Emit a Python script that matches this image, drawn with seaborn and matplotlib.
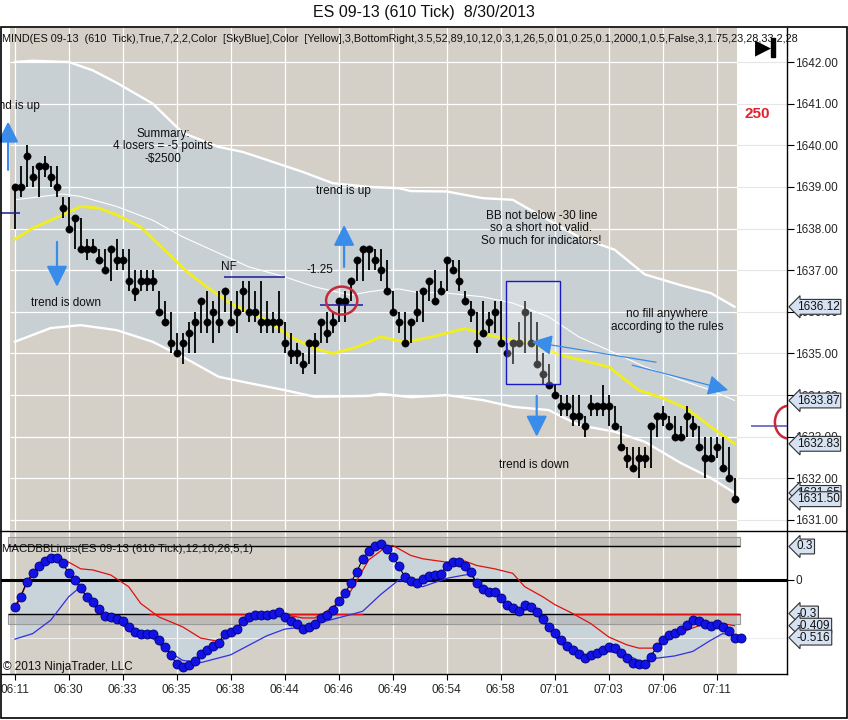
import numpy as np
import pandas as pd
import seaborn as sns
import matplotlib.pyplot as plt
from matplotlib.patches import Rectangle, Ellipse
from matplotlib.lines import Line2D

# ---- price bars (610 tick) ----
closes = [1639.0, 1639.0, 1639.75, 1639.25, 1639.5, 1639.5, 1639.25, 1639.0, 1638.5, 1638.0,
          1638.25, 1637.5, 1637.5, 1637.5, 1637.25, 1637.0, 1637.5, 1637.25, 1637.25, 1636.75,
          1636.5, 1636.75, 1636.75, 1636.75, 1636.0, 1635.75, 1635.25, 1635.0, 1635.25, 1635.5,
          1635.75, 1636.25, 1635.75, 1636.0, 1635.75, 1636.5, 1635.75, 1636.0, 1636.5, 1636.0,
          1636.0, 1635.75, 1635.75, 1635.75, 1635.75, 1635.25, 1635.0, 1635.0, 1634.75, 1635.25,
          1635.25, 1635.75, 1635.5, 1635.75, 1636.25, 1636.25, 1636.75, 1637.25, 1637.5, 1637.5,
          1637.25, 1637.0, 1636.5, 1636.0, 1635.75, 1635.25, 1635.75, 1636.0, 1636.5, 1636.75,
          1636.25, 1636.5, 1637.25, 1637.0, 1636.75, 1636.25, 1636.0, 1635.25, 1635.5, 1635.75,
          1636.0, 1635.25, 1635.0, 1635.25, 1635.25, 1636.0, 1635.25, 1634.75, 1634.5, 1634.25,
          1634.0, 1633.75, 1633.75, 1633.5, 1633.5, 1633.25, 1633.75, 1633.75, 1633.75, 1633.75,
          1633.25, 1632.75, 1632.5, 1632.25, 1632.5, 1632.5, 1633.25, 1633.5, 1633.5, 1633.25,
          1633.0, 1633.0, 1633.5, 1633.25, 1632.75, 1632.5, 1632.5, 1632.75, 1632.25, 1632.0,
          1631.5]
highs = [1639.0, 1639.5, 1640.0, 1639.5, 1639.5, 1639.75, 1639.5, 1639.5, 1638.75, 1638.75,
         1638.25, 1638.25, 1637.75, 1637.75, 1637.5, 1637.5, 1637.5, 1637.75, 1637.5, 1637.5,
         1637.0, 1637.0, 1637.0, 1637.0, 1636.5, 1636.25, 1636.0, 1635.5, 1635.5, 1635.75,
         1636.0, 1636.25, 1636.5, 1636.25, 1636.5, 1636.5, 1636.25, 1636.5, 1636.75, 1636.75,
         1636.5, 1636.75, 1636.25, 1636.0, 1636.5, 1635.75, 1635.5, 1635.25, 1635.0, 1635.25,
         1635.5, 1635.75, 1636.0, 1636.0, 1636.25, 1636.5, 1636.75, 1637.25, 1637.5, 1637.5,
         1637.5, 1637.5, 1637.25, 1636.5, 1636.0, 1636.0, 1635.75, 1636.5, 1636.5, 1636.75,
         1637.0, 1636.75, 1637.25, 1637.25, 1637.25, 1636.5, 1636.25, 1636.0, 1636.25, 1636.0,
         1636.25, 1636.25, 1635.25, 1635.25, 1635.75, 1636.25, 1636.0, 1635.75, 1635.0, 1634.75,
         1634.25, 1634.0, 1634.0, 1634.0, 1634.0, 1633.5, 1634.0, 1633.75, 1634.25, 1634.0,
         1633.75, 1633.25, 1632.75, 1632.75, 1632.75, 1632.75, 1633.25, 1633.5, 1633.75, 1633.5,
         1633.5, 1633.25, 1633.75, 1633.5, 1633.25, 1633.0, 1633.0, 1633.0, 1633.0, 1632.75,
         1632.0]
lows = [1638.0, 1638.75, 1639.0, 1639.0, 1638.75, 1639.25, 1639.0, 1638.75, 1638.25, 1638.0,
        1637.5, 1637.5, 1637.25, 1637.5, 1637.25, 1637.0, 1636.75, 1637.0, 1637.0, 1636.5,
        1636.25, 1636.5, 1636.5, 1636.5, 1636.0, 1635.75, 1635.0, 1635.0, 1634.75, 1635.0,
        1635.0, 1635.5, 1635.5, 1635.25, 1635.5, 1636.0, 1635.75, 1635.5, 1636.0, 1635.75,
        1635.75, 1635.5, 1635.5, 1635.5, 1635.5, 1635.0, 1634.75, 1634.75, 1634.5, 1634.75,
        1634.5, 1635.25, 1635.25, 1635.5, 1635.75, 1635.75, 1636.25, 1636.75, 1636.75, 1637.0,
        1637.0, 1636.75, 1636.5, 1636.0, 1635.5, 1635.25, 1635.25, 1635.75, 1635.75, 1636.25,
        1636.25, 1636.5, 1636.5, 1637.0, 1636.5, 1636.25, 1635.75, 1635.0, 1635.5, 1635.5,
        1635.5, 1635.25, 1635.0, 1634.75, 1635.25, 1635.0, 1635.25, 1634.75, 1634.25, 1634.25,
        1634.0, 1633.5, 1633.5, 1633.25, 1633.25, 1633.0, 1633.5, 1633.5, 1633.5, 1633.25,
        1633.25, 1632.75, 1632.25, 1632.25, 1632.0, 1632.25, 1632.25, 1633.0, 1633.25, 1633.25,
        1633.0, 1633.0, 1633.0, 1633.0, 1632.75, 1632.0, 1632.5, 1632.5, 1632.25, 1632.0,
        1631.5]

time_labels = ['06:11', '06:30', '06:33', '06:35', '06:38', '06:44', '06:46',
               '06:49', '06:54', '06:58', '07:01', '07:03', '07:06', '07:11']
price_ticks = [1631, 1632, 1633, 1634, 1635, 1636, 1637, 1638, 1639, 1640, 1641, 1642]

# bollinger band lines, read at sample bars
upper_idx = [0, 3, 9, 13, 17, 23, 28, 34, 38, 42, 48, 53, 59, 64, 66, 72, 78, 83, 89, 94, 100, 105, 111, 116, 120]
upper_val = [1642.0, 1642.03, 1642.0, 1641.8, 1641.5, 1641.0, 1640.3, 1639.96, 1639.84, 1639.65,
             1639.36, 1639.09, 1639.0, 1638.97, 1638.9, 1638.89, 1638.73, 1638.69, 1638.2, 1637.8,
             1637.49, 1636.9, 1636.64, 1636.45, 1636.12]
mid_idx = [0, 8, 11, 17, 23, 28, 34, 39, 45, 50, 56, 59, 61, 64, 67, 72, 78, 83, 89, 94, 100, 105, 111, 116, 120]
mid_val = [1638.69, 1638.83, 1638.77, 1638.53, 1638.2, 1637.8, 1637.41, 1637.08, 1636.84, 1636.6,
           1636.4, 1636.48, 1636.52, 1636.55, 1636.47, 1636.45, 1636.36, 1636.21, 1635.88, 1635.4,
           1635.01, 1634.68, 1634.36, 1634.12, 1633.87]
lower_idx = [0, 6, 11, 17, 23, 28, 34, 39, 45, 50, 59, 61, 66, 72, 78, 83, 89, 94, 100, 105, 111, 116, 120]
lower_val = [1635.28, 1635.61, 1635.68, 1635.56, 1635.28, 1634.92, 1634.44, 1634.29, 1634.12, 1633.96,
             1633.98, 1634.03, 1633.95, 1634.0, 1633.88, 1633.72, 1633.64, 1633.28, 1633.12, 1632.88,
             1632.37, 1632.01, 1631.65]
ma_idx = [0, 3, 6, 11, 14, 17, 21, 25, 29, 32, 36, 42, 46, 50, 53, 57, 61, 65, 69, 75, 79, 86, 91, 99, 104, 108, 112, 116, 120]
ma_val = [1637.74, 1638.01, 1638.2, 1638.53, 1638.49, 1638.33, 1638.04, 1637.48, 1636.93, 1636.6,
          1636.2, 1635.8, 1635.4, 1635.12, 1635.0, 1635.15, 1635.4, 1635.27, 1635.38, 1635.6,
          1635.44, 1635.24, 1634.96, 1634.68, 1634.12, 1633.93, 1633.68, 1633.24, 1632.83]

# MACD panel
macd_vals = [-0.24, -0.15, -0.015, 0.06, 0.125, 0.17, 0.197, 0.197, 0.15, 0.06,
             0.0, -0.075, -0.15, -0.2, -0.26, -0.32, -0.335, -0.35, -0.37, -0.42,
             -0.47, -0.48, -0.48, -0.48, -0.54, -0.6, -0.67, -0.755, -0.776, -0.76,
             -0.725, -0.66, -0.627, -0.59, -0.56, -0.48, -0.465, -0.44, -0.364, -0.335,
             -0.313, -0.313, -0.313, -0.304, -0.29, -0.335, -0.367, -0.397, -0.436, -0.42,
             -0.397, -0.343, -0.313, -0.27, -0.188, -0.12, -0.03, 0.075, 0.185, 0.26,
             0.307, 0.322, 0.277, 0.21, 0.125, 0.03, -0.006, -0.03, 0.006, 0.036,
             0.045, 0.054, 0.125, 0.158, 0.164, 0.125, 0.075, -0.03, -0.083, -0.11,
             -0.11, -0.164, -0.227, -0.25, -0.275, -0.227, -0.245, -0.29, -0.35, -0.42,
             -0.477, -0.537, -0.588, -0.627, -0.665, -0.70, -0.67, -0.656, -0.627, -0.6,
             -0.61, -0.656, -0.70, -0.746, -0.755, -0.755, -0.686, -0.6, -0.537, -0.49,
             -0.477, -0.448, -0.403, -0.358, -0.367, -0.394, -0.41, -0.394, -0.424, -0.46,
             -0.52, -0.52]
red_idx = [0, 2, 5, 7, 9, 11, 13, 16, 19, 21, 24, 28, 31, 34, 36, 38, 40, 43, 46, 48, 50, 52, 54, 56,
           59, 62, 63, 66, 68, 72, 75, 77, 80, 83, 85, 88, 90, 93, 96, 99, 102, 104, 107, 109, 111,
           113, 115, 117, 119, 120]
red_val = [-0.27, -0.03, 0.18, 0.20, 0.16, 0.10, 0.09, 0.045, -0.06, -0.21, -0.33, -0.42, -0.52, -0.55,
           -0.50, -0.38, -0.31, -0.30, -0.32, -0.34, -0.34, -0.28, -0.20, -0.10, 0.18, 0.30, 0.31, 0.22,
           0.19, 0.16, 0.17, 0.13, 0.10, 0.06, -0.06, -0.15, -0.22, -0.30, -0.39, -0.51, -0.58, -0.61,
           -0.61, -0.53, -0.47, -0.43, -0.39, -0.38, -0.40, -0.41]
blue_idx = [0, 3, 6, 9, 11, 12, 14, 17, 20, 23, 25, 28, 31, 36, 42, 45, 48, 51, 56, 58, 61, 64, 68,
            72, 75, 76, 78, 80, 82, 84, 86, 88, 91, 95, 98, 102, 105, 107, 110, 113, 116, 118, 120]
blue_val = [-0.53, -0.48, -0.36, -0.15, -0.06, -0.16, -0.28, -0.37, -0.48, -0.52, -0.62, -0.72, -0.74,
            -0.67, -0.50, -0.44, -0.42, -0.38, -0.31, -0.28, -0.13, 0.0, -0.06, 0.015, 0.045, 0.05,
            -0.09, -0.12, -0.23, -0.28, -0.26, -0.37, -0.57, -0.70, -0.63, -0.67, -0.745, -0.70,
            -0.68, -0.64, -0.54, -0.48, -0.50]

price_marks = [1636.12, 1633.87, 1632.83, 1631.65, 1631.50]
macd_marks = [0.3, -0.3, -0.409, -0.516]

TAN = '#D4D0C8'
BAND = '#C8D0D4'
ARROW = '#3A8CEA'
FONT = ['Liberation Sans Narrow', 'Liberation Sans', 'DejaVu Sans']

sns.set_theme(style='white')
plt.rcParams['font.family'] = FONT
plt.rcParams['text.color'] = '#101010'

W, H = 848, 720
fig = plt.figure(figsize=(W / 100, H / 100), dpi=100)
fig.patch.set_facecolor('white')


def fx(px):
    return px / W


def fy(py):
    return 1 - py / H


ax = fig.add_axes([fx(1), fy(530), fx(787) - fx(1), fy(28) - fy(530)])
ax2 = fig.add_axes([fx(1), fy(674), fx(787) - fx(1), fy(532) - fy(674)])

bars = pd.DataFrame({'bar': np.arange(len(closes)), 'close': closes, 'high': highs, 'low': lows})
xmin, xmax = (1 - 14.7) / 6, (787 - 14.7) / 6
tan_end = (737 - 14.7) / 6
tan_start = (10 - 14.7) / 6
grid_x = list(range(0, 118, 9))

# ---------------- price panel ----------------
ax.set_facecolor('white')
ax.axvspan(tan_start, tan_end, color=TAN, lw=0, zorder=0)
ax.fill(np.r_[upper_idx, lower_idx[::-1]], np.r_[upper_val, lower_val[::-1]],
        color=BAND, lw=0, zorder=1)
for gx in grid_x:
    ax.axvline(gx, color='white', lw=0.9, zorder=1.5)
for p in price_ticks:
    ax.hlines(p, tan_start, tan_end, color='white', lw=0.9, zorder=1.5)
    ax.hlines(p, tan_end, xmax, color='#E6E6E6', lw=0.8, zorder=1.5)

sns.lineplot(x=upper_idx, y=upper_val, ax=ax, color='white', lw=1.7, zorder=3)
sns.lineplot(x=lower_idx, y=lower_val, ax=ax, color='white', lw=1.7, zorder=3)
sns.lineplot(x=mid_idx, y=mid_val, ax=ax, color='white', lw=0.8, zorder=3)
sns.lineplot(x=ma_idx, y=ma_val, ax=ax, color='#F2EE1E', lw=2.0, zorder=3.2)

ax.vlines(bars['bar'], bars['low'], bars['high'], color='black', lw=1.3, zorder=4)
sns.scatterplot(data=bars, x='bar', y='close', ax=ax, color='black', s=28,
                edgecolor='black', linewidth=0.3, zorder=5, legend=False)

# annotations
txt = dict(fontsize=8.5, ha='center', va='center', zorder=8)
ax.text((-15 - 14.7) / 6, 1640.94, 'trend is up', ha='left', va='center', fontsize=8.5, clip_on=True, zorder=8)
ax.text(24.7, 1639.98, 'Summary:\n4 losers = -5 points\n-$2500', linespacing=1.05, **txt)
ax.text(8.55, 1636.2, 'trend is down', **txt)
ax.text(35.7, 1637.07, 'NF', **txt)
ax.text(50.9, 1637.0, '-1.25', **txt)
ax.text(54.8, 1638.89, 'trend is up', **txt)
ax.text(87.8, 1638.01, 'BB not below -30 line\nso a short not valid.\nSo much for indicators!', linespacing=1.05, **txt)
ax.text(108.7, 1635.79, 'no fill anywhere\naccording to the rules', linespacing=1.05, **txt)
ax.text(86.55, 1632.32, 'trend is down', **txt)

thick = dict(arrowstyle='-|>,head_length=0.9,head_width=0.45', color=ARROW, lw=1.6, mutation_scale=14,
             shrinkA=0, shrinkB=0)
thin = dict(arrowstyle='-|>,head_length=0.9,head_width=0.45', color=ARROW, lw=0.9, mutation_scale=14,
            shrinkA=0, shrinkB=0)
ax.annotate('', xy=(-1.1, 1640.57), xytext=(-1.1, 1639.41), arrowprops=thick, zorder=7)
ax.annotate('', xy=(7.05, 1636.6), xytext=(7.05, 1637.68), arrowprops=thick, zorder=7)
ax.annotate('', xy=(54.9, 1638.09), xytext=(54.9, 1637.08), arrowprops=thick, zorder=7)
ax.annotate('', xy=(87.0, 1633.0), xytext=(87.0, 1633.98), arrowprops=thick, zorder=7)
ax.annotate('', xy=(86.2, 1635.28), xytext=(106.9, 1634.79), arrowprops=thin, zorder=7)
ax.annotate('', xy=(118.9, 1634.12), xytext=(102.9, 1634.72), arrowprops=thin, zorder=7)

ax.hlines(1638.38, xmin, 0.88, color='#1A1AA0', lw=1.1, zorder=6)
ax.hlines(1636.83, 34.9, 45.05, color='#1A1AA0', lw=1.1, zorder=6)
ax.hlines(1636.16, 50.9, 58.0, color='#1A1AA0', lw=1.1, zorder=6)
ax.hlines(1633.26, 122.7, xmax, color='#5050C0', lw=1.1, zorder=6)
ax.add_patch(Ellipse((54.5, 1636.27), 5.2, 0.67, fill=False, ec='#C8283C', lw=1.8, zorder=6.5))
ax.add_patch(Ellipse((129.05, 1633.35), 4.7, 0.79, fill=False, ec='#C8283C', lw=1.8, zorder=6.5))
ax.add_patch(Rectangle((81.9, 1634.26), 9.05, 2.48, fc=(1, 1, 1, 0.25), ec='#1A1AC0', lw=1.0, zorder=6))

ax.set_xlim(xmin, xmax)
ax.set_ylim(1631 - 10 / 41.636, 1642 + 34 / 41.636)
ax.set_xticks([])
ax.yaxis.tick_right()
ax.set_yticks(price_ticks)
ax.set_yticklabels([f'{p}.00' for p in price_ticks])
ax.tick_params(axis='y', direction='out', length=5, width=0.8, color='black', labelsize=8.5, pad=1,
               right=True, left=False)
ax.set_xlabel('')
ax.set_ylabel('')
for s in ['top', 'left', 'bottom']:
    ax.spines[s].set_visible(False)
ax.spines['right'].set_color('black')
ax.spines['right'].set_linewidth(1.0)

callout = dict(boxstyle='larrow,pad=0.12', fc='#D6E2F2', ec='#303030', lw=0.8)
for v in price_marks:
    ax.annotate(f'{v:.2f}', xy=(1, v), xycoords=('axes fraction', 'data'), xytext=(7, 0),
                textcoords='offset points', ha='left', va='center', fontsize=8.5,
                bbox=callout, annotation_clip=False, zorder=9)

# ---------------- MACD panel ----------------
ax2.set_facecolor('white')
ax2.axvspan(tan_start, tan_end, color=TAN, lw=0, zorder=0)
ax2.fill(np.r_[red_idx, blue_idx[::-1]], np.r_[red_val, blue_val[::-1]], color='#C9D3DA', lw=0, zorder=1)
for gx in grid_x:
    ax2.axvline(gx, color='white', lw=0.9, zorder=1.5)
ax2.hlines(-0.516, tan_start, xmax, color='#EEEEEE', lw=0.8, zorder=1.5)

band_end = (740 - 14.7) / 6
band_start = (8 - 14.7) / 6
ax2.add_patch(Rectangle((band_start, 0.3), band_end - band_start, 0.085, fc=(0.6, 0.6, 0.6, 0.35),
                        ec='#9A9A9A', lw=0.8, zorder=1.8))
ax2.add_patch(Rectangle((band_start, -0.395), band_end - band_start, 0.095, fc=(0.6, 0.6, 0.6, 0.35),
                        ec='#9A9A9A', lw=0.8, zorder=1.8))
ax2.hlines(0.3, band_start, band_end, color='black', lw=1.0, zorder=2)
ax2.hlines(-0.3, band_start, band_end, color='black', lw=1.0, zorder=2)
# threshold turns red where the upper macd band sits below it
ax2.hlines(-0.3, 22.3, 58.0, color='#E01010', lw=1.0, zorder=2.1)
ax2.hlines(-0.3, 93.0, band_end, color='#E01010', lw=1.0, zorder=2.1)
ax2.axhline(0, color='black', lw=2.2, zorder=2.2)

sns.lineplot(x=red_idx, y=red_val, ax=ax2, color='#E01010', lw=0.9, zorder=3)
sns.lineplot(x=blue_idx, y=blue_val, ax=ax2, color='#3030E0', lw=0.9, zorder=3)
macd = pd.DataFrame({'bar': np.arange(len(macd_vals)), 'macd': macd_vals})
ax2.plot(macd['bar'], macd['macd'], color='black', lw=0.8, zorder=3.5)
sns.scatterplot(data=macd, x='bar', y='macd', ax=ax2, color='#1212E6', s=42,
                edgecolor='#000070', linewidth=0.6, zorder=4, legend=False)

ax2.set_xlim(xmin, xmax)
ax2.set_ylim((580 - 674) / 111.67, (580 - 532) / 111.67)
ax2.set_xticks(grid_x)
ax2.set_xticklabels(time_labels)
ax2.yaxis.tick_right()
ax2.set_yticks([0])
ax2.set_yticklabels(['0'])
ax2.tick_params(axis='x', direction='out', length=4, width=0.8, color='black', labelsize=8.5, pad=3,
                bottom=True)
ax2.tick_params(axis='y', direction='out', length=5, width=0.8, color='black', labelsize=8.5, pad=1,
                right=True, left=False)
ax2.set_xlabel('')
ax2.set_ylabel('')
for s in ['top', 'left']:
    ax2.spines[s].set_visible(False)
for s in ['right', 'bottom']:
    ax2.spines[s].set_color('black')
    ax2.spines[s].set_linewidth(1.0)
for v in macd_marks:
    ax2.annotate(f'{v:g}', xy=(1, v), xycoords=('axes fraction', 'data'), xytext=(7, 0),
                 textcoords='offset points', ha='left', va='center', fontsize=8.5,
                 bbox=callout, annotation_clip=False, zorder=9)

# ---------------- figure furniture ----------------
fig.text(0.5, fy(13), 'ES 09-13 (610 Tick)  8/30/2013', ha='center', va='center', fontsize=11.5)
fig.text(fx(2), fy(39), 'MIND(ES 09-13  (610  Tick),True,7,2,2,Color  [SkyBlue],Color  [Yellow],3,BottomRight,'
         '3.5,52,89,10,12,0.3,1,26,5,0.01,0.25,0.1,2000,1,0.5,False,3,1.75,23,28,33,2,28',
         ha='left', va='center', fontsize=7.8)
fig.text(fx(2), fy(549), 'MACDBBLines(ES 09-13 (610 Tick),12,10,26,5,1)', ha='left', va='center', fontsize=8.2)
fig.text(fx(3), fy(667), '\u00a9 2013 NinjaTrader, LLC', ha='left', va='center', fontsize=8.5)
fig.text(fx(757), fy(114), '250', ha='center', va='center', fontsize=11, weight='bold', color='#E8202C')
fig.text(fx(763), fy(48), '\u25B6', ha='center', va='center', fontsize=15, family='DejaVu Sans', color='black')
fig.add_artist(Rectangle((fx(771), fy(57)), 4 / W, 19 / H, transform=fig.transFigure, color='black'))

fig.add_artist(Rectangle((fx(0.5), fy(718)), 846.5 / W, (718 - 27) / H, transform=fig.transFigure,
                         fill=False, ec='black', lw=1.2))
fig.add_artist(Line2D([0, 1], [fy(531), fy(531)], transform=fig.transFigure, color='black', lw=1.0))

plt.savefig('out.png', dpi=100)
